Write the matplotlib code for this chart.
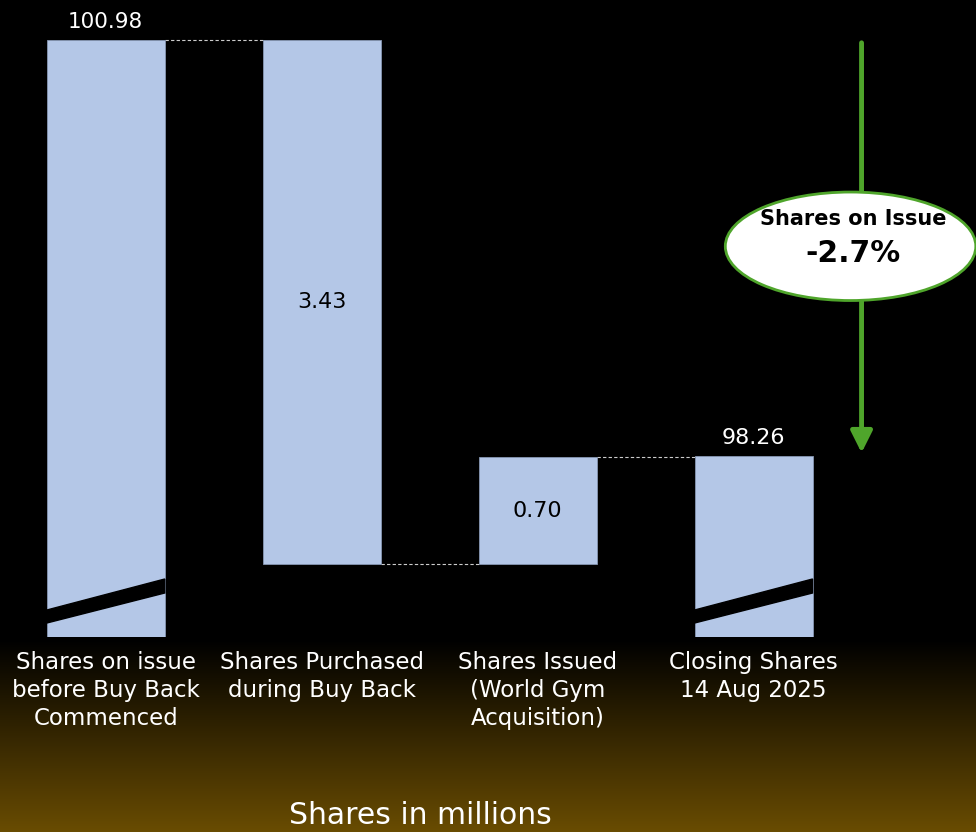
import numpy as np
import matplotlib.pyplot as plt
from matplotlib.patches import Ellipse, Polygon

# data
categories = ['Shares on issue\nbefore Buy Back\nCommenced',
              'Shares Purchased\nduring Buy Back',
              'Shares Issued\n(World Gym\nAcquisition)',
              'Closing Shares\n14 Aug 2025']
opening = 100.98
changes = [-3.43, 0.70]
closing = 98.26
pct_change = '-2.7%'

bar_color = '#B4C7E7'
green = '#4FA52B'

fig = plt.figure(figsize=(9.76, 8.32), dpi=100)

# background gradient black -> dark gold
bg = fig.add_axes([0, 0, 1, 1], zorder=0)
rows = np.linspace(0, 1, 832)
t = np.clip((rows - 640 / 832) / (1 - 640 / 832), 0, 1)
top = np.array([0.0, 0.0, 0.0])
bot = np.array([105, 76, 2]) / 255
grad = (top[None, :] * (1 - t[:, None]) + bot[None, :] * t[:, None])[:, None, :]
bg.imshow(grad, aspect='auto', extent=[0, 1, 0, 1], origin='upper')
bg.axis('off')

pxu = 152.8  # pixels per million shares
ylow = 97.073
ax = fig.add_axes([0, 195 / 832, 1, 637 / 832], zorder=1)
ax.set_facecolor('none')
ax.set_xlim(-0.49, 4.03)
ax.set_ylim(ylow, ylow + 637 / pxu)
ax.axis('off')

w = 0.546
x = np.arange(len(categories))

# waterfall pieces
level = opening
tops = [opening]
bottoms = [0]
for c in changes:
    new = level + c
    tops.append(max(level, new))
    bottoms.append(min(level, new))
    level = new
tops.append(closing)
bottoms.append(0)

for i in range(len(categories)):
    ax.bar(x[i], tops[i] - bottoms[i], bottom=bottoms[i], width=w,
           color=bar_color, edgecolor='#8797b3', linewidth=0.6, zorder=2)

# axis break stripes on the total bars
for i in (0, len(categories) - 1):
    xl, xr = x[i] - w / 2, x[i] + w / 2
    poly = Polygon([(xl, ylow + 14 / pxu), (xr, ylow + 44 / pxu),
                    (xr, ylow + 58 / pxu), (xl, ylow + 27 / pxu)],
                   closed=True, color='black', zorder=3)
    ax.add_patch(poly)

# connector lines
levels = [opening, opening + changes[0], opening + changes[0] + changes[1]]
for i in range(3):
    ax.plot([x[i] + w / 2, x[i + 1] - w / 2], [levels[i], levels[i]],
            color='#cccccc', lw=0.8, ls=(0, (3, 2)), zorder=1)

# value labels
ax.text(x[0], opening + 0.05, f'{opening:.2f}', color='white',
        ha='center', va='bottom', fontsize=15.5)
ax.text(x[3], closing + 0.05, f'{closing:.2f}', color='white',
        ha='center', va='bottom', fontsize=16)
for i, c in enumerate(changes):
    mid = (tops[i + 1] + bottoms[i + 1]) / 2
    ax.text(x[i + 1], mid, f'{abs(c):.2f}', color='black',
            ha='center', va='center', fontsize=16)

# category labels
for i, lab in enumerate(categories):
    ax.text(x[i], ylow - 0.09, lab, color='white', ha='center', va='top',
            fontsize=16.5, linespacing=1.28, clip_on=False)

# change arrow and ellipse
ax.annotate('', xy=(3.5, closing), xytext=(3.5, opening),
            arrowprops=dict(arrowstyle='-|>,head_width=0.65,head_length=1.3',
                            color=green, lw=3.5), zorder=4)
ell = Ellipse((3.449, 99.63), 1.16, 0.71, facecolor='white',
              edgecolor=green, lw=2, zorder=5, clip_on=False)
ax.add_patch(ell)
ax.text(3.46, 99.81, 'Shares on Issue', ha='center', va='center',
        fontsize=15, fontweight='bold', color='black', zorder=6)
ax.text(3.46, 99.585, pct_change, ha='center', va='center',
        fontsize=21.5, fontweight='bold', color='black', zorder=6)

fig.text(420 / 976, 1 - 815 / 832, 'Shares in millions', color='white',
         ha='center', va='center', fontsize=21.5)

fig.savefig('out.png', dpi=100, facecolor='black')
